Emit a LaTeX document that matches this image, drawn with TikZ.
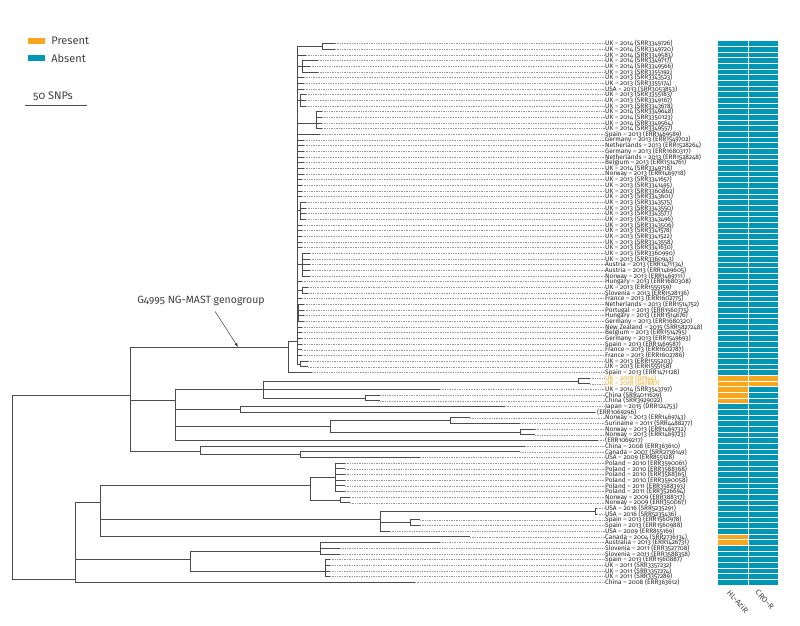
\documentclass[tikz,border=0pt]{standalone}
\usepackage{fontspec}
\setmainfont{Fira Sans}[Numbers=OldStyle]
\usetikzlibrary{arrows.meta,positioning}
\definecolor{present}{RGB}{247,166,30}
\definecolor{absent}{RGB}{0,150,182}
\newcommand\rowy[1]{43.5+(#1-1)*5.67}

\begin{document}
\begin{tikzpicture}[
  x=1pt, y=-1pt,
  branch/.style={draw=black!70, line width=0.6pt},
  leader/.style={draw=black!40, line width=0.35pt, dash pattern=on 0.6pt off 1.1pt},
  leaf/.style={anchor=west, inner sep=0pt, font=\fontsize{6.5}{6.5}\selectfont, text=black!85},
  key/.style={anchor=west, inner sep=0pt, font=\fontsize{11}{12}\selectfont, text=black!75},
  swatch/.style={minimum width=17pt, minimum height=6pt, inner sep=0pt},
  colhead/.style={anchor=north west, inner sep=0pt, rotate=-48, font=\fontsize{7.8}{8}\selectfont, text=black!75},
  cellsep/.style={draw=white, line width=0.5pt}
]
\useasboundingbox (0,0) rectangle (800,626);

% legend and scale
\node[swatch, fill=present] (presentkey) at (36.5,41) {};
\node[key, right=6pt of presentkey] (presenttxt) {Present};
\node[swatch, fill=absent] (absentkey) at (36.5,58) {};
\node[key, right=6pt of absentkey] (absenttxt) {Absent};
\node[key] (scaletxt) at (33,96) {50 SNPs};
\coordinate (scaleL) at (25,105);
\coordinate (scaleR) at (87,105);
\draw[line width=0.8pt, black!70] (scaleL) -- (scaleR);

% leaves: row/tip x/label
\foreach \i/\tx/\lab in {
  1/335/{UK – 2014 (SRR3349726)}, 2/335/{UK – 2014 (SRR3349720)},
  3/306/{UK – 2014 (SRR3349583)}, 4/318/{UK – 2014 (SRR3349717)},
  5/310/{UK – 2014 (SRR3349566)}, 6/318/{UK – 2013 (SRR3355192)},
  7/304/{UK – 2013 (SRR3343523)}, 8/304/{UK – 2013 (SRR3355174)},
  9/304/{USA – 2013 (SRR3053853)}, 10/306/{UK – 2013 (SRR3355183)},
  11/306/{UK – 2013 (SRR3349167)}, 12/306/{UK – 2013 (SRR3343678)},
  13/322/{UK – 2014 (SRR3349648)}, 14/322/{UK – 2014 (SRR3350123)},
  15/322/{UK – 2014 (SRR3349564)}, 16/322/{UK – 2014 (SRR3349557)},
  17/320/{Spain – 2013 (ERR1469589)}, 18/304/{Germany – 2013 (ERR1549702)},
  19/304/{Netherlands – 2013 (ERR1528264)}, 20/304/{Germany – 2013 (ERR1680317)},
  21/304/{Netherlands – 2013 (ERR1528248)}, 22/304/{Belgium – 2013 (ERR1514761)},
  23/304/{UK – 2014 (SRR3349718)}, 24/304/{Norway – 2013 (ERR1469718)},
  25/302/{UK – 2013 (SRR3341657)}, 26/302/{UK – 2013 (SRR3341495)},
  27/302/{UK – 2013 (SRR3360862)}, 28/302/{UK – 2013 (SRR3343601)},
  29/306/{UK – 2013 (SRR3343575)}, 30/306/{UK – 2013 (SRR3343550)},
  31/306/{UK – 2013 (SRR3343577)}, 32/306/{UK – 2013 (SRR3343496)},
  33/302/{UK – 2013 (SRR3343506)}, 34/302/{UK – 2013 (SRR3341578)},
  35/302/{UK – 2013 (SRR3341522)}, 36/302/{UK – 2013 (SRR3343558)},
  37/302/{UK – 2013 (SRR3341630)}, 38/310/{UK – 2013 (SRR3360990)},
  39/310/{UK – 2013 (SRR3360943)}, 40/310/{Austria – 2013 (ERR1471134)},
  41/310/{Austria – 2013 (ERR1469605)}, 42/310/{Norway – 2013 (ERR1469711)},
  43/302/{Hungary – 2013 (ERR1680308)}, 44/308/{UK – 2013 (ERR1555159)},
  45/308/{Slovenia – 2013 (ERR1528136)}, 46/302/{France – 2013 (ERR1602775)},
  47/304/{Netherlands – 2013 (ERR1514752)}, 48/304/{Portugal – 2013 (ERR1560775)},
  49/304/{Hungary – 2013 (ERR1514676)}, 50/304/{Germany – 2013 (ERR1680320)},
  51/302/{New Zealand – 2015 (SRR5827248)}, 52/302/{Belgium – 2013 (ERR1514795)},
  53/302/{Germany – 2013 (ERR1549693)}, 54/302/{Spain – 2013 (ERR1469587)},
  55/302/{France – 2013 (ERR1602787)}, 56/302/{France – 2013 (ERR1602786)},
  57/308/{UK – 2013 (ERR1555203)}, 58/308/{UK – 2013 (ERR1555158)},
  59/312/{Spain – 2013 (ERR1471128)},
  60/590/{\textcolor{present}{UK – 2018 (G7944)}}, 61/590/{\textcolor{present}{UK – 2018 (G97687)}},
  62/440/{UK – 2014 (SRR3543797)}, 63/380/{China (SRR4011629)},
  64/380/{China (SRR3929022)}, 65/505/{Japan – 2015 (DRR124753)},
  66/595/{(ERR1069296)}, 67/470/{Norway – 2013 (ERR1469743)},
  68/520/{Suriname – 2011 (SRR4488277)}, 69/535/{Norway – 2013 (ERR1469732)},
  70/535/{Norway – 2013 (ERR1469723)}, 71/598/{(ERR1069217)},
  72/525/{China – 2008 (ERR363610)}, 73/520/{Canada – 2007 (SRR2736149)},
  74/420/{USA – 2009 (ERR855128)}, 75/345/{Poland – 2010 (ERR3590061)},
  76/345/{Poland – 2010 (ERR3588368)}, 77/345/{Poland – 2010 (ERR3588365)},
  78/345/{Poland – 2010 (ERR3590058)}, 79/345/{Poland – 2011 (ERR3588393)},
  80/345/{Poland – 2011 (ERR3526694)}, 81/350/{Norway – 2009 (ERR388317)},
  82/350/{Norway – 2009 (ERR350067)}, 83/597/{USA – 2016 (SRR5235291)},
  84/597/{USA – 2016 (SRR5235436)}, 85/420/{Spain – 2013 (ERR1560978)},
  86/420/{Spain – 2013 (ERR1560988)}, 87/390/{USA – 2009 (ERR855169)},
  88/470/{Canada – 2004 (SRR2736134)}, 89/440/{Australia – 2013 (ERR1426731)},
  90/340/{Slovenia – 2011 (ERR3527708)}, 91/340/{Slovenia – 2011 (ERR3588358)},
  92/330/{Spain – 2013 (ERR1560887)}, 93/330/{UK – 2011 (SRR3357232)},
  94/330/{UK – 2011 (SRR3357274)}, 95/330/{UK – 2011 (SRR3357289)},
  96/415/{China – 2008 (ERR363612)}}{
  \pgfmathsetmacro\lx{\i==66 ? 597 : 605}
  \coordinate (t\i) at (\tx,{\rowy{\i}});
  \node[leaf] (l\i) at (\lx,{\rowy{\i}}) {\lab};
  \draw[leader] (t\i) -- (l\i.west);
}

% internal nodes
\coordinate (R) at (12,{\rowy{79}});
\coordinate (A) at (130,{\rowy{63}});
\coordinate (B) at (75,{\rowy{95.5}});
\coordinate (G) at (288,{\rowy{54.5}});
\coordinate (M) at (297,{\rowy{53.6}});
\coordinate (u1) at (322,{\rowy{1.5}});
\coordinate (u2) at (302,{\rowy{5}});
\coordinate (u3) at (300,{\rowy{11}});
\coordinate (u4) at (316,{\rowy{15}});
\coordinate (u5) at (300,{\rowy{30.5}});
\coordinate (u6) at (302,{\rowy{40}});
\coordinate (u7) at (302,{\rowy{44.5}});
\coordinate (u8) at (298,{\rowy{48.5}});
\coordinate (u9) at (300,{\rowy{57.5}});
\coordinate (C) at (175,{\rowy{64}});
\coordinate (O) at (263,{\rowy{62}});
\coordinate (o1) at (578,{\rowy{60.5}});
\coordinate (o2) at (365,{\rowy{63.5}});
\coordinate (J) at (240,{\rowy{65.5}});
\coordinate (N) at (330,{\rowy{68.5}});
\coordinate (n1) at (450,{\rowy{67.5}});
\coordinate (n2) at (520,{\rowy{69.5}});
\coordinate (E) at (200,{\rowy{73}});
\coordinate (e1) at (300,{\rowy{73.5}});
\coordinate (P) at (100,{\rowy{82}});
\coordinate (p1) at (310,{\rowy{79}});
\coordinate (pol) at (335,{\rowy{77.5}});
\coordinate (nw) at (340,{\rowy{81.5}});
\coordinate (p2) at (380,{\rowy{85}});
\coordinate (us) at (595,{\rowy{83.5}});
\coordinate (sp) at (410,{\rowy{85.5}});
\coordinate (Q) at (190,{\rowy{92}});
\coordinate (q1) at (320,{\rowy{90.5}});
\coordinate (q2) at (325,{\rowy{94}});

\foreach \p/\c in {R/A, R/B, A/G, A/C, A/E, G/M, G/t59,
  M/u1, M/t3, M/u2, M/t7, M/t8, M/t9, M/u3, M/u4, M/t17, M/t18, M/t19, M/t20,
  M/t21, M/t22, M/t23, M/t24, M/t25, M/t26, M/t27, M/t28, M/u5, M/t33, M/t34,
  M/t35, M/t36, M/t37, M/u6, M/t43, M/u7, M/t46, M/u8, M/t51, M/t52, M/t53,
  M/t54, M/t55, M/t56, M/u9,
  u1/t1, u1/t2, u2/t4, u2/t5, u2/t6, u3/t10, u3/t11, u3/t12,
  u4/t13, u4/t14, u4/t15, u4/t16, u5/t29, u5/t30, u5/t31, u5/t32,
  u6/t38, u6/t39, u6/t40, u6/t41, u6/t42, u7/t44, u7/t45,
  u8/t47, u8/t48, u8/t49, u8/t50, u9/t57, u9/t58,
  C/O, C/J, C/N, C/t71, O/o1, O/t62, O/o2, o1/t60, o1/t61, o2/t63, o2/t64,
  J/t65, J/t66, N/n1, N/n2, n1/t67, n1/t68, n2/t69, n2/t70,
  E/t72, E/e1, e1/t73, e1/t74,
  B/P, B/Q, B/t96, P/p1, P/p2, P/t88, p1/pol, p1/nw,
  pol/t75, pol/t76, pol/t77, pol/t78, pol/t79, pol/t80, nw/t81, nw/t82,
  p2/us, p2/sp, p2/t87, us/t83, us/t84, sp/t85, sp/t86,
  Q/q1, Q/q2, q1/t89, q1/t90, q1/t91, q2/t92, q2/t93, q2/t94, q2/t95}{
  \draw[branch] (\p) |- (\c);
}

% genogroup label
\node[font=\fontsize{10.5}{11}\selectfont, text=black!75] (geno) at (201,301) {G4995 NG-MAST genogroup};
\coordinate (genotip) at (238,347);
\draw[black!75, line width=0.5pt, -{Latex[length=4pt,width=3pt]}] ([xshift=14pt,yshift=-2pt]geno.south) -- (genotip);

% resistance columns
\foreach \i in {1,...,96}{
  \fill[absent] (718,{\rowy{\i}-2.835}) rectangle (778,{\rowy{\i}+2.835});
}
\foreach \i in {60,...,64,88,89}{
  \fill[present] (718,{\rowy{\i}-2.835}) rectangle (748,{\rowy{\i}+2.835});
}
\foreach \i in {60,61}{
  \fill[present] (748,{\rowy{\i}-2.835}) rectangle (778,{\rowy{\i}+2.835});
}
\foreach \i in {1,...,95}{
  \draw[cellsep] (718,{\rowy{\i}+2.835}) -- (778,{\rowy{\i}+2.835});
}
\draw[cellsep] (748,{\rowy{1}-2.835}) -- (748,{\rowy{96}+2.835});
\node[colhead] (hlhead) at (731,589) {HL–AziR};
\node[colhead] (crohead) at (759,589) {CRO–R};

\end{tikzpicture}
\end{document}
